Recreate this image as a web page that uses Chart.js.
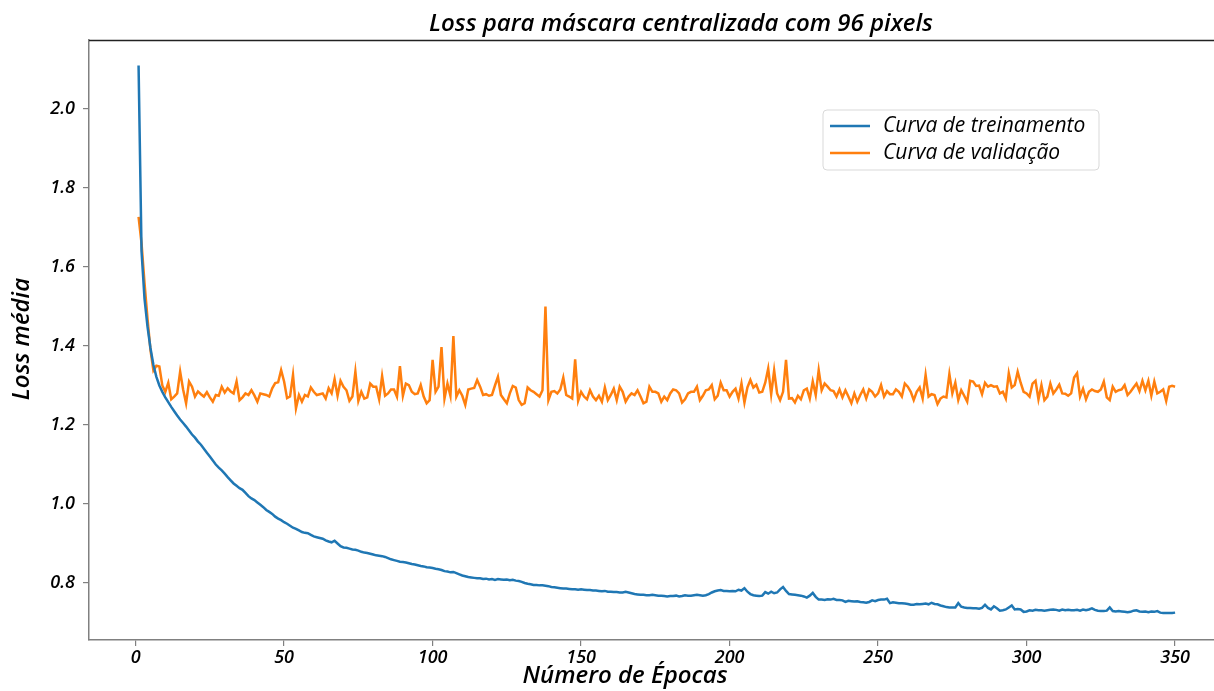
<!DOCTYPE html>
<html><head><meta charset="utf-8">
<script src="https://cdn.jsdelivr.net/npm/chart.js@4.4.1/dist/chart.umd.min.js"></script>
<style>html,body{margin:0;padding:0;background:#fff;}#wrap{width:1214px;height:691px;position:relative;}</style>
</head><body><div id="wrap"><canvas id="c" width="1214" height="691"></canvas></div>
<script>
const TITLE = "Loss para máscara centralizada com 96 pixels";
const X_TITLE = "Número de Épocas";
const Y_TITLE = "Loss média";
const SERIES_NAMES = ["Curva de treinamento", "Curva de validação"];
const X_TICKS = [0, 50, 100, 150, 200, 250, 300, 350];
const Y_TICKS = [0.8, 1.0, 1.2, 1.4, 1.6, 1.8, 2.0];
const epochs = Array.from({length: 350}, (_, i) => i + 1);

const trainLoss = [
2.110,1.640,1.520,1.450,1.395,1.352,1.322,1.300,1.284,1.270,
1.258,1.246,1.235,1.224,1.214,1.205,1.196,1.186,1.176,1.168,
1.158,1.150,1.140,1.130,1.120,1.110,1.100,1.092,1.085,1.077,
1.068,1.060,1.052,1.046,1.040,1.036,1.028,1.020,1.014,1.010,
1.004,0.998,0.992,0.985,0.980,0.975,0.968,0.963,0.959,0.954,
0.950,0.945,0.940,0.937,0.933,0.929,0.927,0.926,0.922,0.918,
0.916,0.914,0.912,0.908,0.905,0.903,0.907,0.900,0.893,0.890,
0.889,0.887,0.885,0.884,0.882,0.879,0.877,0.876,0.874,0.872,
0.870,0.869,0.868,0.866,0.863,0.860,0.858,0.856,0.854,0.853,
0.852,0.850,0.848,0.847,0.845,0.843,0.842,0.840,0.839,0.838,
0.836,0.835,0.833,0.830,0.829,0.827,0.828,0.825,0.822,0.819,
0.817,0.815,0.814,0.813,0.812,0.812,0.810,0.811,0.809,0.810,
0.808,0.810,0.809,0.808,0.809,0.807,0.808,0.806,0.805,0.803,
0.800,0.798,0.797,0.795,0.795,0.794,0.794,0.793,0.792,0.790,
0.789,0.788,0.787,0.786,0.786,0.785,0.784,0.784,0.783,0.784,
0.783,0.782,0.782,0.781,0.781,0.780,0.779,0.780,0.778,0.778,
0.777,0.777,0.776,0.776,0.778,0.776,0.774,0.772,0.771,0.770,
0.770,0.769,0.769,0.770,0.769,0.768,0.768,0.767,0.766,0.767,
0.767,0.768,0.766,0.767,0.769,0.768,0.768,0.769,0.770,0.769,
0.768,0.769,0.772,0.776,0.779,0.781,0.782,0.780,0.780,0.779,
0.780,0.779,0.783,0.781,0.787,0.778,0.772,0.769,0.768,0.767,
0.768,0.777,0.773,0.778,0.774,0.776,0.784,0.790,0.780,0.772,
0.771,0.770,0.769,0.768,0.766,0.763,0.768,0.775,0.765,0.758,
0.758,0.757,0.759,0.758,0.760,0.757,0.757,0.756,0.752,0.755,
0.754,0.753,0.754,0.752,0.751,0.750,0.752,0.756,0.754,0.757,
0.758,0.758,0.760,0.749,0.751,0.750,0.749,0.749,0.748,0.747,
0.745,0.745,0.747,0.746,0.747,0.748,0.746,0.750,0.747,0.746,
0.743,0.741,0.739,0.738,0.738,0.738,0.749,0.740,0.738,0.737,
0.737,0.736,0.736,0.735,0.737,0.745,0.737,0.733,0.741,0.736,
0.730,0.731,0.733,0.738,0.743,0.733,0.734,0.733,0.727,0.728,
0.731,0.730,0.732,0.731,0.731,0.730,0.731,0.732,0.733,0.732,
0.730,0.733,0.731,0.732,0.731,0.731,0.732,0.730,0.733,0.731,
0.733,0.736,0.732,0.730,0.729,0.729,0.730,0.738,0.729,0.728,
0.729,0.728,0.727,0.726,0.727,0.730,0.731,0.728,0.727,0.728,
0.726,0.728,0.727,0.729,0.725,0.724,0.724,0.724,0.724,0.725
];

const valLoss = [
1.727,1.660,1.560,1.470,1.390,1.338,1.350,1.348,1.300,1.284,
1.307,1.265,1.272,1.280,1.335,1.290,1.255,1.310,1.297,1.272,
1.285,1.278,1.272,1.283,1.270,1.259,1.276,1.274,1.297,1.282,
1.293,1.285,1.280,1.310,1.263,1.270,1.280,1.276,1.288,1.275,
1.259,1.280,1.278,1.276,1.272,1.293,1.306,1.308,1.339,1.310,
1.268,1.272,1.327,1.242,1.276,1.259,1.276,1.272,1.295,1.284,
1.276,1.278,1.280,1.267,1.293,1.280,1.316,1.274,1.312,1.297,
1.288,1.261,1.272,1.335,1.261,1.284,1.267,1.270,1.305,1.297,
1.297,1.265,1.324,1.274,1.280,1.290,1.290,1.272,1.349,1.274,
1.305,1.301,1.284,1.278,1.280,1.301,1.272,1.255,1.263,1.365,
1.284,1.297,1.397,1.267,1.305,1.274,1.425,1.272,1.288,1.274,
1.251,1.290,1.292,1.294,1.314,1.297,1.276,1.278,1.274,1.276,
1.300,1.322,1.276,1.265,1.255,1.280,1.299,1.295,1.263,1.251,
1.255,1.295,1.288,1.284,1.278,1.272,1.288,1.500,1.263,1.284,
1.286,1.280,1.290,1.320,1.276,1.272,1.267,1.366,1.261,1.284,
1.272,1.265,1.288,1.272,1.263,1.274,1.259,1.295,1.263,1.276,
1.292,1.263,1.297,1.284,1.259,1.272,1.280,1.276,1.288,1.272,
1.255,1.259,1.297,1.284,1.284,1.280,1.259,1.272,1.263,1.280,
1.290,1.288,1.280,1.257,1.265,1.280,1.284,1.284,1.297,1.263,
1.274,1.288,1.290,1.301,1.265,1.274,1.307,1.288,1.288,1.272,
1.284,1.292,1.267,1.305,1.257,1.295,1.314,1.295,1.302,1.282,
1.284,1.307,1.343,1.278,1.338,1.280,1.263,1.284,1.365,1.267,
1.268,1.257,1.274,1.265,1.288,1.292,1.267,1.310,1.276,1.339,
1.288,1.305,1.297,1.288,1.286,1.272,1.290,1.270,1.288,1.272,
1.255,1.280,1.259,1.276,1.290,1.267,1.290,1.284,1.272,1.280,
1.301,1.272,1.286,1.278,1.278,1.290,1.284,1.272,1.305,1.297,
1.284,1.263,1.284,1.295,1.267,1.327,1.272,1.278,1.276,1.253,
1.267,1.272,1.270,1.329,1.280,1.307,1.263,1.288,1.274,1.259,
1.312,1.310,1.299,1.300,1.278,1.307,1.297,1.301,1.297,1.298,
1.280,1.284,1.267,1.331,1.295,1.301,1.335,1.307,1.284,1.280,
1.272,1.305,1.312,1.265,1.301,1.263,1.272,1.305,1.280,1.290,
1.302,1.280,1.279,1.274,1.280,1.320,1.331,1.272,1.292,1.265,
1.284,1.290,1.286,1.284,1.290,1.310,1.270,1.263,1.297,1.284,
1.288,1.290,1.301,1.276,1.284,1.295,1.305,1.286,1.312,1.288,
1.312,1.274,1.310,1.280,1.284,1.290,1.261,1.297,1.299,1.297
];

const COLORS = ["#1f77b4", "#ff7f0e"];
const FONT = "'Open Sans'";
const tickFont = {family: "'Open Sans'", size: 18, style: "italic", weight: "600"};

const textPlugin = {
  id: "texts",
  afterDraw(chart) {
    const ctx = chart.ctx;
    const ca = chart.chartArea;
    ctx.save();
    ctx.strokeStyle = "#222";
    ctx.lineWidth = 1.5;
    ctx.beginPath();
    ctx.moveTo(ca.left, ca.top + 0.5);
    ctx.lineTo(ca.right, ca.top + 0.5);
    ctx.stroke();
    ctx.fillStyle = "#000";
    ctx.textAlign = "center";
    ctx.textBaseline = "middle";
    ctx.font = "italic 600 24px " + FONT;
    ctx.fillText(TITLE, 681, 24);
    ctx.fillText(X_TITLE, 625, 676);
    ctx.save();
    ctx.translate(22, 339);
    ctx.rotate(-Math.PI / 2);
    ctx.fillText(Y_TITLE, 0, 0);
    ctx.restore();
    const lx = 823, ly = 110, lw = 276, lh = 60, r = 4;
    ctx.beginPath();
    ctx.moveTo(lx + r, ly);
    ctx.arcTo(lx + lw, ly, lx + lw, ly + lh, r);
    ctx.arcTo(lx + lw, ly + lh, lx, ly + lh, r);
    ctx.arcTo(lx, ly + lh, lx, ly, r);
    ctx.arcTo(lx, ly, lx + lw, ly, r);
    ctx.closePath();
    ctx.fillStyle = "rgba(255,255,255,0.9)";
    ctx.fill();
    ctx.strokeStyle = "#d9d9d9";
    ctx.lineWidth = 1;
    ctx.stroke();
    ctx.textAlign = "left";
    ctx.font = "italic 500 21px " + FONT;
    chart.data.datasets.forEach((ds, i) => {
      const y = 126 + i * 27;
      ctx.strokeStyle = ds.borderColor;
      ctx.lineWidth = 2.5;
      ctx.beginPath();
      ctx.moveTo(830, y);
      ctx.lineTo(870, y);
      ctx.stroke();
      ctx.fillStyle = "#000";
      ctx.fillText(ds.label, 883, y);
    });
    ctx.restore();
  }
};

new Chart(document.getElementById("c"), {
  type: "line",
  data: {
    datasets: [
      {label: SERIES_NAMES[0], data: epochs.map((e, i) => ({x: e, y: trainLoss[i]})),
       borderColor: COLORS[0], backgroundColor: COLORS[0], borderWidth: 2.5, pointRadius: 0, tension: 0},
      {label: SERIES_NAMES[1], data: epochs.map((e, i) => ({x: e, y: valLoss[i]})),
       borderColor: COLORS[1], backgroundColor: COLORS[1], borderWidth: 2.5, pointRadius: 0, tension: 0}
    ]
  },
  options: {
    responsive: false,
    animation: false,
    layout: {padding: {top: 40, right: 0, left: 0, bottom: 0}},
    plugins: {legend: {display: false}, title: {display: false}, tooltip: {enabled: false}},
    scales: {
      x: {
        type: "linear", min: -15.69, max: 363.1,
        afterFit(s) { s.height = 51; },
        afterBuildTicks(s) { s.ticks = X_TICKS.map(v => ({value: v})); },
        grid: {drawOnChartArea: false, drawTicks: true, tickLength: 6, color: "#808080", lineWidth: 1.2},
        border: {display: true, color: "#808080", width: 1.5},
        ticks: {font: tickFont, color: "#000", padding: 1, maxRotation: 0, autoSkip: false}
      },
      y: {
        type: "linear", min: 0.6557, max: 2.1747,
        afterFit(s) { s.width = 89; },
        afterBuildTicks(s) { s.ticks = Y_TICKS.map(v => ({value: v})); },
        grid: {drawOnChartArea: false, drawTicks: true, tickLength: 6, color: "#808080", lineWidth: 1.2},
        border: {display: true, color: "#808080", width: 1.5},
        ticks: {font: tickFont, color: "#000", padding: 8, autoSkip: false,
                callback: v => v.toFixed(1)}
      }
    }
  },
  plugins: [textPlugin]
});
</script></body></html>
